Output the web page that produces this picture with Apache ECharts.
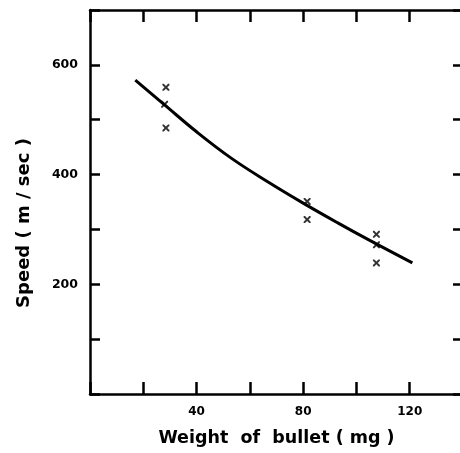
<!DOCTYPE html>
<html>
<head>
<meta charset="utf-8">
<script src="https://cdn.jsdelivr.net/npm/echarts@6/dist/echarts.min.js"></script>
<style>
  html, body { margin: 0; padding: 0; background: #fff; overflow: hidden; }
  #chart { width: 468px; height: 453px; }
</style>
</head>
<body>
<div id="chart"></div>
<script>
// measured bullet weights (mg) and speeds (m/sec)
const pointWeights = [28.5, 28, 28.5, 81.5, 81.5, 107.5, 107.5, 107.5];
const pointSpeeds = [559, 528, 485, 351, 318, 291, 272, 239];

// fitted curve
const curveWeights = [17, 28, 40, 53, 67, 80, 93, 105, 121];
const curveSpeeds = [572, 527, 478, 430, 386, 348, 312, 280, 239];

const xLabels = [40, 80, 120];
const yLabels = [200, 400, 600];

const points = pointWeights.map((w, i) => [w, pointSpeeds[i]]);
const curve = curveWeights.map((w, i) => [w, curveSpeeds[i]]);

const font = "'DejaVu Sans', sans-serif";
const crossPath = "path://M0,0 L2,0 L5,3 L8,0 L10,0 L10,2 L7,5 L10,8 L10,10 L8,10 L5,7 L2,10 L0,10 L0,8 L3,5 L0,2 Z";

// the frame's right edge sits just past the 460px window, as in the scan
const chart = echarts.init(document.getElementById("chart"));

const baseAxisLine = { show: true, onZero: false, lineStyle: { color: "#000", width: 2.5 } };
const baseTick = { show: true, inside: true, length: 12, lineStyle: { color: "#000", width: 2.5 } };

chart.setOption({
  animation: false,
  backgroundColor: "#fff",
  grid: { left: 90, top: 10, right: 5, bottom: 59 },
  xAxis: [
    {
      type: "value",
      min: 0,
      max: 140,
      interval: 20,
      position: "bottom",
      axisLine: baseAxisLine,
      axisTick: baseTick,
      splitLine: { show: false },
      axisLabel: {
        color: "#000",
        fontFamily: font,
        fontWeight: "bold",
        fontSize: 12,
        margin: 12,
        formatter: (v) => (xLabels.includes(v) ? String(v) : ""),
      },
      name: "Weight  of  bullet ( mg )",
      nameLocation: "middle",
      nameGap: 35,
      nameTextStyle: { color: "#000", fontFamily: font, fontWeight: "bold", fontSize: 17.5 },
    },
    {
      type: "value",
      min: 0,
      max: 140,
      interval: 20,
      position: "top",
      axisLine: baseAxisLine,
      axisTick: baseTick,
      splitLine: { show: false },
      axisLabel: { show: false },
    },
  ],
  yAxis: [
    {
      type: "value",
      min: 0,
      max: 700,
      interval: 100,
      position: "left",
      axisLine: baseAxisLine,
      axisTick: { ...baseTick, length: 10 },
      splitLine: { show: false },
      axisLabel: {
        color: "#000",
        fontFamily: font,
        fontWeight: "bold",
        fontSize: 12.5,
        margin: 12,
        formatter: (v) => (yLabels.includes(v) ? String(v) : ""),
      },
      name: "Speed ( m / sec )",
      nameLocation: "middle",
      nameGap: 57,
      nameRotate: 90,
      nameTextStyle: {
        color: "#000",
        fontFamily: font,
        fontWeight: "bold",
        fontSize: 18,
        padding: [0, 42, 0, 0],
      },
    },
    {
      type: "value",
      min: 0,
      max: 700,
      interval: 100,
      position: "right",
      axisLine: baseAxisLine,
      axisTick: { ...baseTick, length: 10 },
      splitLine: { show: false },
      axisLabel: { show: false },
    },
  ],
  series: [
    {
      type: "line",
      data: curve,
      smooth: 0.4,
      showSymbol: false,
      lineStyle: { color: "#000", width: 3 },
    },
    {
      type: "scatter",
      data: points,
      symbol: crossPath,
      symbolSize: 7,
      itemStyle: { color: "#000" },
    },
  ],
});
</script>
</body>
</html>
